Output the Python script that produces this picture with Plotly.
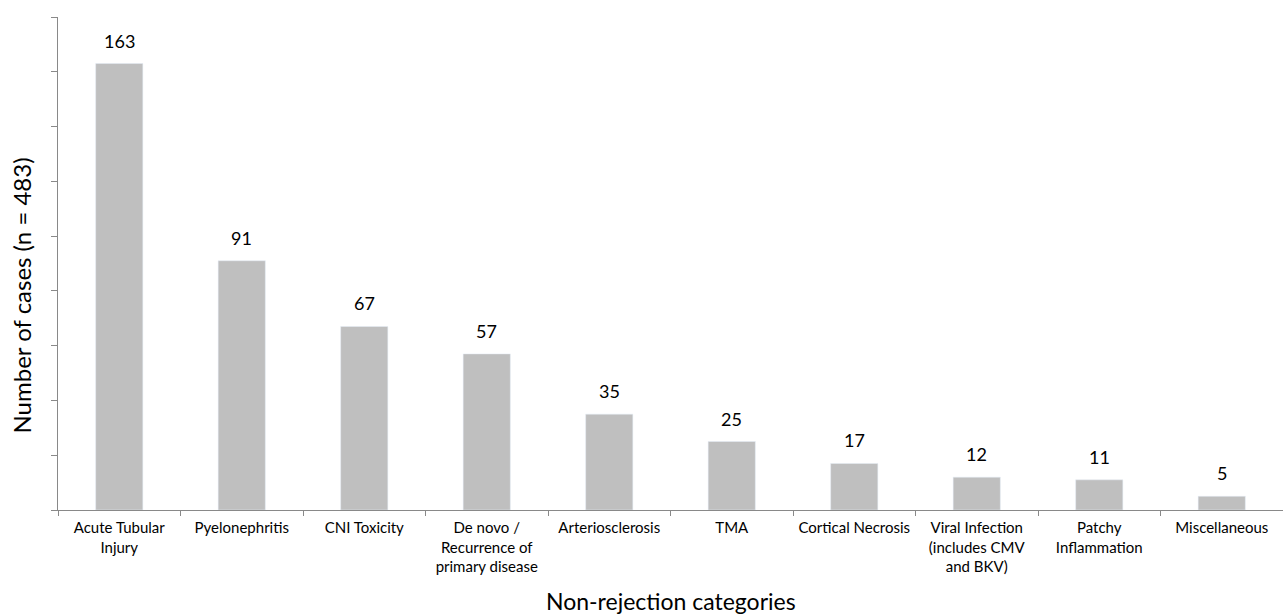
import plotly.graph_objects as go

categories = ["Acute Tubular<br>Injury", "Pyelonephritis", "CNI Toxicity",
              "De novo /<br>Recurrence of<br>primary disease", "Arteriosclerosis", "TMA",
              "Cortical Necrosis", "Viral Infection<br>(includes CMV<br>and BKV)",
              "Patchy<br>Inflammation", "Miscellaneous"]
values = [163, 91, 67, 57, 35, 25, 17, 12, 11, 5]
x_title = "Non-rejection categories"
y_title = "Number of cases (n = 483)"

FONT = "Lato"

fig = go.Figure()
fig.add_trace(go.Bar(x=categories, y=values, marker_color="#bfbfbf",
                     width=0.385, hoverinfo="skip"))

for c, v in zip(categories, values):
    fig.add_annotation(x=c, y=v, text=str(v), showarrow=False, yanchor="bottom",
                       yshift=10, font=dict(family=FONT, size=18, color="black"))

# axis titles
fig.add_annotation(xref="paper", yref="paper", x=0, y=0.434, text=y_title,
                   textangle=-90, showarrow=False, xanchor="center", yanchor="middle",
                   xshift=-36.5, font=dict(family=FONT, size=24, color="black"))
fig.add_annotation(xref="paper", yref="paper", x=0.5, y=0, text=x_title,
                   showarrow=False, xanchor="center", yanchor="middle",
                   yshift=-91, font=dict(family=FONT, size=23, color="black"))

fig.update_layout(
    width=1283, height=614,
    margin=dict(l=58, r=0, t=17, b=104),
    plot_bgcolor="white", paper_bgcolor="white",
    showlegend=False,
    font=dict(family=FONT, color="black"),
    xaxis=dict(
        showline=True, linecolor="#898989", linewidth=1,
        ticks="outside", tickson="boundaries", ticklen=5, tickcolor="#898989",
        tickfont=dict(size=15, family=FONT, color="black"),
        ticklabelstandoff=4,
        automargin=False,
        range=[-0.5, 9.5],
    ),
    yaxis=dict(
        showline=True, linecolor="#898989", linewidth=1,
        range=[0, 180], dtick=20, tick0=0,
        ticks="outside", ticklen=6, tickcolor="#898989",
        showticklabels=False, showgrid=False, zeroline=False,
        automargin=False,
    ),
)

fig.write_html("out.html", config={"displayModeBar": False},
               post_script="document.body.style.margin='0';")
